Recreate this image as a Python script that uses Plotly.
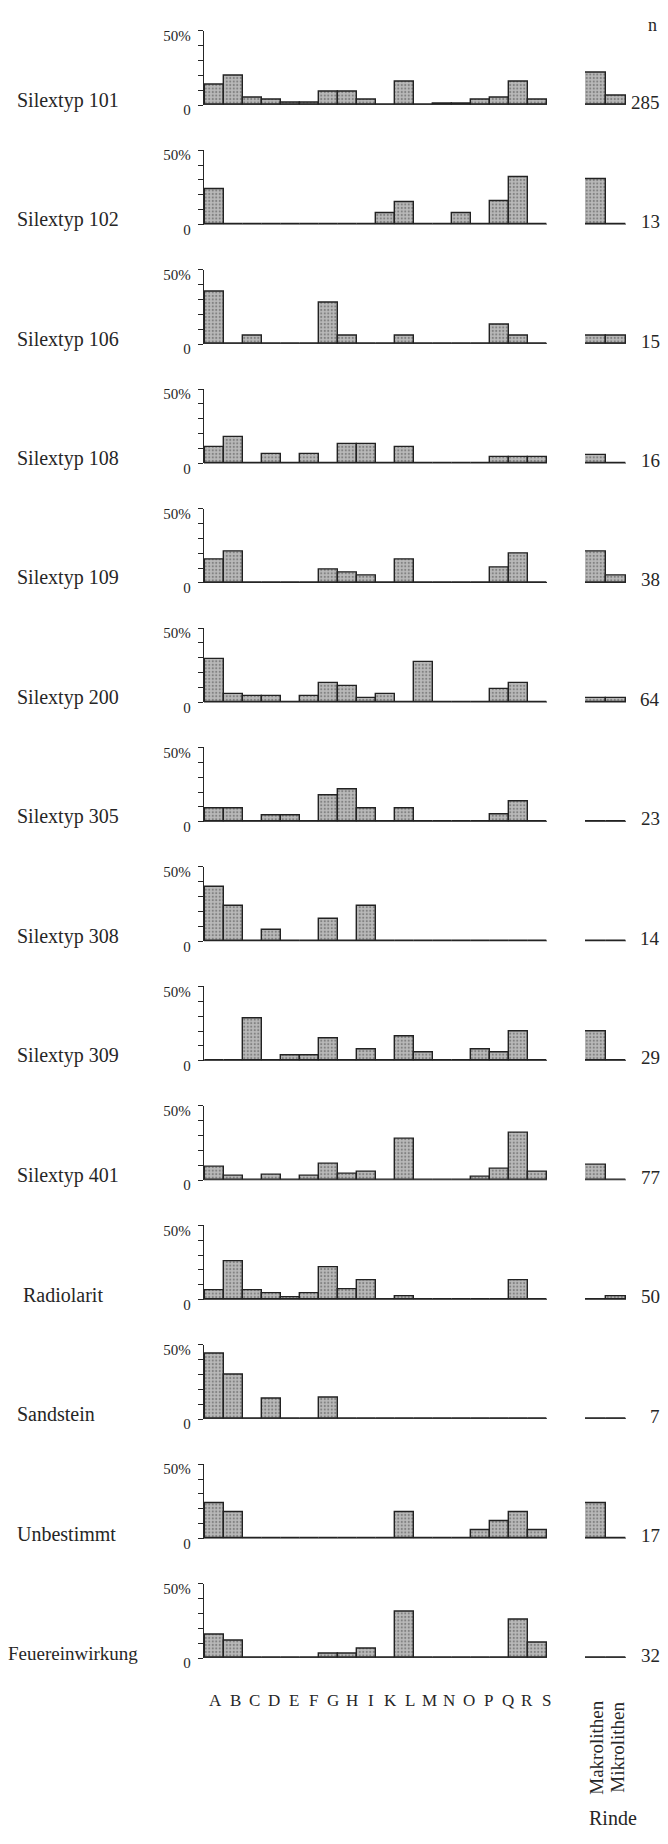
import plotly.graph_objects as go

# ---------------- data ----------------
categories = ["A", "B", "C", "D", "E", "F", "G", "H", "I", "K", "L", "M", "N", "O", "P", "Q", "R", "S"]
rinde_categories = ["Makrolithen", "Mikrolithen"]

panel_labels = ["Silextyp 101", "Silextyp 102", "Silextyp 106", "Silextyp 108", "Silextyp 109",
                "Silextyp 200", "Silextyp 305", "Silextyp 308", "Silextyp 309", "Silextyp 401",
                "Radiolarit", "Sandstein", "Unbestimmt", "Feuereinwirkung"]
n_values = ["285", "13", "15", "16", "38", "64", "23", "14", "29", "77", "50", "7", "17", "32"]

#                A     B     C    D    E    F    G     H     I     K    L     M    N    O    P    Q     R     S
silextyp_101 = [14.0, 19.7, 5.2, 3.6, 1.5, 1.5, 9.0, 9.0, 3.4, 0, 15.9, 0, 1.2, 1.2, 3.4, 5.2, 15.7, 3.4]
silextyp_102 = [23.5, 0, 0, 0, 0, 0, 0, 0, 0, 7.5, 15.2, 0, 0, 7.5, 0, 15.5, 32.0, 0]
silextyp_106 = [35.0, 0, 5.6, 0, 0, 0, 27.5, 5.6, 0, 0, 5.6, 0, 0, 0, 0, 13.0, 5.6, 0]
silextyp_108 = [11.0, 18.0, 0, 6.0, 0, 6.0, 0, 12.7, 12.7, 0, 11.0, 0, 0, 0, 0, 4.0, 4.0, 4.0]
silextyp_109 = [15.9, 21.0, 0, 0, 0, 0, 9.0, 7.0, 5.0, 0, 16.0, 0, 0, 0, 0, 10.4, 19.6, 0]
silextyp_200 = [29.0, 5.6, 4.0, 4.0, 0, 4.0, 13.0, 11.0, 3.0, 5.6, 0, 27.0, 0, 0, 0, 9.0, 13.0, 0]
silextyp_305 = [8.7, 8.7, 0, 4.3, 4.3, 0, 17.6, 21.7, 8.7, 0, 8.7, 0, 0, 0, 0, 4.8, 14.0, 0]
silextyp_308 = [36.5, 23.5, 0, 7.5, 0, 0, 14.8, 0, 23.5, 0, 0, 0, 0, 0, 0, 0, 0, 0]
silextyp_309 = [0, 0, 28.5, 0, 3.8, 3.8, 14.8, 0, 7.4, 0, 16.4, 5.8, 0, 0, 7.4, 5.8, 19.6, 0]
silextyp_401 = [9.3, 3.0, 0, 3.7, 0, 3.0, 11.0, 4.2, 5.7, 0, 28.0, 0, 0, 0, 2.4, 7.7, 32.0, 5.3]
radiolarit = [6.0, 25.6, 6.4, 4.2, 1.5, 4.4, 22.0, 6.7, 12.7, 0, 2.0, 0, 0, 0, 0, 0, 12.7, 0]
sandstein = [43.9, 29.7, 0, 14.0, 0, 0, 14.2, 0, 0, 0, 0, 0, 0, 0, 0, 0, 0, 0]
unbestimmt = [23.5, 17.6, 0, 0, 0, 0, 0, 0, 0, 0, 17.6, 0, 0, 0, 5.9, 11.8, 17.6, 5.9]
feuereinwirkung = [15.6, 12.0, 0, 0, 0, 0, 3.1, 3.1, 6.5, 0, 31.0, 0, 0, 0, 0, 0, 26.0, 10.0]

#             Makro Mikro
rinde_101 = [22.0, 6.0]
rinde_102 = [30.5, 0]
rinde_106 = [5.8, 5.8]
rinde_108 = [5.5, 0]
rinde_109 = [21.0, 5.0]
rinde_200 = [3.0, 3.0]
rinde_305 = [0, 0]
rinde_308 = [0, 0]
rinde_309 = [20.0, 0]
rinde_401 = [10.0, 0]
rinde_radiolarit = [0, 2.0]
rinde_sandstein = [0, 0]
rinde_unbestimmt = [23.5, 0]
rinde_feuer = [0, 0]

panel_values = [silextyp_101, silextyp_102, silextyp_106, silextyp_108, silextyp_109, silextyp_200,
                silextyp_305, silextyp_308, silextyp_309, silextyp_401, radiolarit, sandstein,
                unbestimmt, feuereinwirkung]
rinde_values = [rinde_101, rinde_102, rinde_106, rinde_108, rinde_109, rinde_200, rinde_305,
                rinde_308, rinde_309, rinde_401, rinde_radiolarit, rinde_sandstein,
                rinde_unbestimmt, rinde_feuer]

# ---------------- layout ----------------
W, H = 668, 1844
B0, PITCH, PH = 103, 120.5, 75
SERIF = "Liberation Serif, Times New Roman, serif"
INK = "#262626"
label_left_px = [15, 15, 15, 15, 15, 15, 15, 15, 15, 15, 21, 15, 15, 6]
label_size = [20] * 13 + [19]

bar_marker = dict(color="#b9b9b9",
                  line=dict(color="#222222", width=1.4),
                  pattern=dict(shape=".", fgcolor="#4a4a4a", size=3.5, solidity=0.3))

fig = go.Figure()
layout = dict(width=W, height=H, margin=dict(l=0, r=0, t=0, b=0),
              paper_bgcolor="white", plot_bgcolor="rgba(0,0,0,0)",
              showlegend=False, bargap=0,
              font=dict(family=SERIF, color=INK))

layout["xaxis"] = dict(domain=[204 / W, 547 / W], range=[-0.55, 17.5], visible=False,
                       type="category", categoryorder="array", categoryarray=categories,
                       anchor="y")
layout["xaxis2"] = dict(domain=[585 / W, 626 / W], range=[-0.5, 1.5], visible=False,
                        type="category", categoryorder="array", categoryarray=rinde_categories,
                        anchor="y")

shapes = []
annotations = []
for i, (vals, rv) in enumerate(zip(panel_values, rinde_values)):
    b = B0 + PITCH * i
    key = "yaxis" if i == 0 else f"yaxis{i + 1}"
    ref = "y" if i == 0 else f"y{i + 1}"
    layout[key] = dict(domain=[1 - b / H, 1 - (b - PH) / H], range=[0, 50], anchor="x",
                       showline=True, linecolor=INK, linewidth=1.3,
                       ticks="outside", ticklen=5, tickcolor=INK, tickwidth=1,
                       tickvals=[0, 10, 20, 30, 40, 50], ticktext=["0", "", "", "", "", "50%"],
                       tickfont=dict(size=15, family=SERIF, color=INK),
                       ticklabelshift=5, ticklabelstandoff=4,
                       showgrid=False, zeroline=False)
    fig.add_trace(go.Bar(x=categories, y=vals, xaxis="x", yaxis=ref, width=1,
                         marker=bar_marker, hoverinfo="x+y"))
    fig.add_trace(go.Bar(x=rinde_categories, y=rv, xaxis="x2", yaxis=ref, width=1,
                         marker=bar_marker, hoverinfo="x+y"))
    shapes.append(dict(type="line", xref="x", yref=ref, x0=-0.55, x1=17.5, y0=0, y1=0,
                       line=dict(color=INK, width=1.6)))
    shapes.append(dict(type="line", xref="x2", yref=ref, x0=-0.5, x1=1.5, y0=0, y1=0,
                       line=dict(color=INK, width=1.6)))
    annotations.append(dict(text=panel_labels[i], xref="paper", yref="paper",
                            x=label_left_px[i] / W, y=1 - (b - 5) / H,
                            xanchor="left", yanchor="middle", showarrow=False,
                            font=dict(size=label_size[i], family=SERIF, color=INK)))
    annotations.append(dict(text=n_values[i], xref="paper", yref="paper",
                            x=662 / W, y=1 - (b - 3) / H, xanchor="right", yanchor="middle",
                            showarrow=False, font=dict(size=19, family=SERIF, color=INK)))

annotations.append(dict(text="n", xref="paper", yref="paper", x=652 / W, y=1 - 22 / H,
                        xanchor="center", yanchor="middle", showarrow=False,
                        font=dict(size=18, family=SERIF, color=INK)))
for k, c in enumerate(categories):
    annotations.append(dict(text=c, xref="x", yref="paper", x=c, y=1 - 1712 / H,
                            xanchor="center", yanchor="middle", showarrow=False,
                            xshift=1.5 + 0.44 * k,
                            font=dict(size=17, family=SERIF, color=INK)))
for lab, xp in zip(rinde_categories, [597, 618]):
    annotations.append(dict(text=lab, xref="paper", yref="paper", x=xp / W, y=1 - 1760 / H,
                            xanchor="center", yanchor="middle", textangle=-90, showarrow=False,
                            font=dict(size=19, family=SERIF, color=INK)))
annotations.append(dict(text="Rinde", xref="paper", yref="paper", x=613 / W, y=1 - 1831 / H,
                        xanchor="center", yanchor="middle", showarrow=False,
                        font=dict(size=20, family=SERIF, color=INK)))

layout["shapes"] = shapes
layout["annotations"] = annotations
fig.update_layout(**layout)
fig.write_html("out.html", config={"displayModeBar": False},
               post_script="document.body.style.margin='0';document.body.style.overflow='hidden';")
